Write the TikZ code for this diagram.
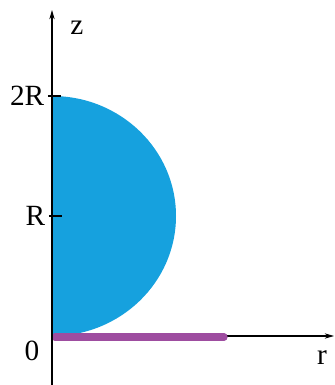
\documentclass[tikz,border=0pt]{standalone}
\usepackage{fontspec}
\setmainfont{Liberation Serif}
\usepackage{tikz}
\usetikzlibrary{arrows.meta,calc}
\definecolor{disk}{RGB}{22, 161, 222}
\definecolor{rod}{RGB}{158, 77, 160}

\begin{document}
\begin{tikzpicture}[>={Stealth[length=7pt,width=4pt]}, x=0.75pt, y=0.75pt,
    font=\fontsize{22}{26}\selectfont]
    \useasboundingbox (-52,-49) rectangle (283,336);

    % Radius
    \def\rad{120}

    \coordinate (O) at (0,0);
    \coordinate (R) at (0,\rad);
    \coordinate (D) at (0,2*\rad);

    % Half disk
    \fill[disk] (O) arc[start angle=-90, end angle=90, x radius=124, y radius=\rad] -- cycle;

    % Axes
    \draw[->, thick] (O) -- (282,0) coordinate (rEnd);
    \draw[->, thick] (0,-49) -- (0,326) coordinate (zEnd);

    % Rod on the r axis
    \draw[rod, line width=5.5pt, line cap=round] (3,-1) -- (172,-1);
    \draw[thick] (0,-6) -- (0,4);

    % Ticks
    \draw[thick] ($(D)+(-4,0)$) -- ($(D)+(9,0)$);
    \draw[thick] ($(R)+(-3,0)$) -- ($(R)+(10,0)$);

    % Labels
    \node[anchor=east] (lD) at ($(D)+(-3,0)$) {2R};
    \node[anchor=east] (lR) at ($(R)+(-2,0)$) {R};
    \node (lO) at (-20,-15) {0};
    \node (lr) at (270,-22) {r};
    \node (lz) at (25,308) {z};
\end{tikzpicture}
\end{document}
